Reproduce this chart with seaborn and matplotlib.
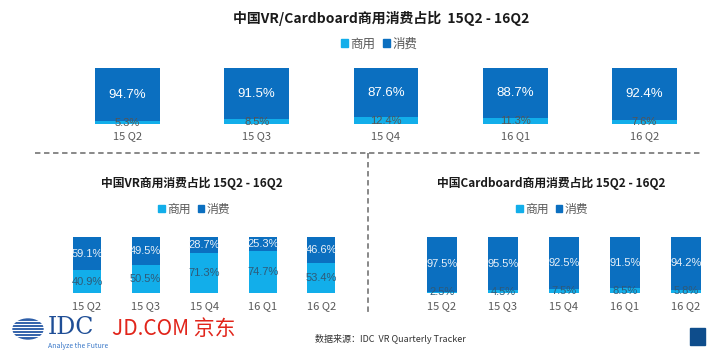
import matplotlib
matplotlib.use("Agg")
import matplotlib.pyplot as plt
import seaborn as sns
from matplotlib.patches import Patch, Rectangle, Ellipse
from matplotlib.lines import Line2D

# data
quarters = ['15 Q2', '15 Q3', '15 Q4', '16 Q1', '16 Q2']
all_commercial = [5.3, 8.5, 12.4, 11.3, 7.6]
all_consumer = [94.7, 91.5, 87.6, 88.7, 92.4]
vr_commercial = [40.9, 50.5, 71.3, 74.7, 53.4]
vr_consumer = [59.1, 49.5, 28.7, 25.3, 46.6]
cb_commercial = [2.5, 4.5, 7.5, 8.5, 5.8]
cb_consumer = [97.5, 95.5, 92.5, 91.5, 94.2]

DARK = '#0b6fc0'
LIGHT = '#12aeea'
GREY = '#595959'

sns.set_style('white')
plt.rcParams['font.family'] = ['Noto Sans CJK SC', 'DejaVu Sans']

W, H = 721, 355
fig = plt.figure(figsize=(W / 100, H / 100), dpi=100)


def px_axes(left, top, right, bottom):
    return fig.add_axes([left / W, 1 - bottom / H, (right - left) / W, (bottom - top) / H])


def stacked(ax, commercial, consumer, c0, step, left, right, width, pad,
            big_fs, small_fs, dark_txt, light_txt):
    total = [a + b for a, b in zip(commercial, consumer)]
    sns.barplot(x=quarters, y=total, color=DARK, width=width, saturation=1, ax=ax, edgecolor='none')
    sns.barplot(x=quarters, y=commercial, color=LIGHT, width=width, saturation=1, ax=ax, edgecolor='none')
    ax.set_xlim((left - c0) / step, (right - c0) / step)
    ax.set_ylim(0, 100)
    for i, (a, b) in enumerate(zip(commercial, consumer)):
        ax.text(i, a + b / 2, f'{b}%', ha='center', va='center', color=dark_txt,
                fontsize=big_fs, family=['Liberation Sans', 'DejaVu Sans'])
        ax.text(i, a / 2, f'{a}%', ha='center', va='center', color=light_txt,
                fontsize=small_fs, family=['Liberation Sans', 'DejaVu Sans'])
    ax.set_yticks([])
    ax.set_xlabel('')
    ax.set_ylabel('')
    ax.tick_params(axis='x', length=0, pad=pad, labelsize=8, labelcolor=GREY)
    sns.despine(ax=ax, left=True, bottom=True)
    ax.patch.set_alpha(0)


def legend_at(x, y, fs):
    handles = [Patch(color=LIGHT, label='商用'), Patch(color=DARK, label='消费')]
    fig.legend(handles=handles, loc='center', bbox_to_anchor=(x / W, 1 - y / H), ncol=2,
               frameon=False, fontsize=fs, handlelength=0.55, handleheight=0.55,
               handletextpad=0.2, columnspacing=0.6, labelcolor=GREY)


# top chart
ax_top = px_axes(30, 68, 710, 124)
stacked(ax_top, all_commercial, all_consumer, 127.5, 129.25, 30, 710, 0.5, 5,
        9.5, 8, 'white', '#555555')
fig.text(381 / W, 1 - 18 / H, '中国VR/Cardboard商用消费占比  15Q2 - 16Q2', ha='center', va='center',
         fontsize=10, fontweight='bold', color='#1a1a1a')
legend_at(379, 44, 9)

# bottom left chart
ax_vr = px_axes(40, 237, 362, 293)
stacked(ax_vr, vr_commercial, vr_consumer, 87, 58.6, 40, 362, 0.48, 6,
        8, 8, '#e8f0f8', '#2f5a78')
fig.text(192 / W, 1 - 183 / H, '中国VR商用消费占比 15Q2 - 16Q2', ha='center', va='center',
         fontsize=8.5, fontweight='bold', color='#1a1a1a')
legend_at(194, 209, 8.5)

# bottom right chart
ax_cb = px_axes(400, 237, 721, 293)
stacked(ax_cb, cb_commercial, cb_consumer, 442, 61, 400, 721, 0.49, 6,
        8, 8, '#e8f0f8', '#2f5a78')
fig.text(551 / W, 1 - 183 / H, '中国Cardboard商用消费占比 15Q2 - 16Q2', ha='center', va='center',
         fontsize=8.5, fontweight='bold', color='#1a1a1a')
legend_at(552, 209, 8.5)

# dashed separators
fig.add_artist(Line2D([35 / W, 700 / W], [1 - 153 / H, 1 - 153 / H], color='#7f7f7f',
                      linestyle=(0, (3, 2)), linewidth=1.3))
fig.add_artist(Line2D([368 / W, 368 / W], [1 - 153 / H, 1 - 312 / H], color='#7f7f7f',
                      linestyle=(0, (3, 2)), linewidth=1.3))

# footer
fig.add_artist(Ellipse((28 / W, 1 - 329 / H), 30 / W, 20 / H, color='#2d5ea8'))
for yy in range(321, 339, 3):
    fig.add_artist(Line2D([10 / W, 46 / W], [1 - yy / H, 1 - yy / H], color='white', linewidth=0.8))
fig.text(48 / W, 1 - 328 / H, 'IDC', fontsize=17, family='DejaVu Serif', color='#1f4e96',
         va='center', ha='left')
fig.text(48 / W, 1 - 346 / H, 'Analyze the Future', fontsize=5, color='#3a78c8', va='center', ha='left')
fig.text(112 / W, 1 - 329 / H, 'JD.COM 京东', fontsize=15, fontweight='medium', color='#e1251b',
         va='center', ha='left')
fig.text(315 / W, 1 - 339 / H, '数据来源：IDC  VR Quarterly Tracker', fontsize=6.5, color='#333333',
         va='center', ha='left')
fig.add_artist(Rectangle((690 / W, 1 - 345 / H), 15 / W, 17 / H, color='#0e4d8c'))

fig.savefig('out.png', dpi=100)
